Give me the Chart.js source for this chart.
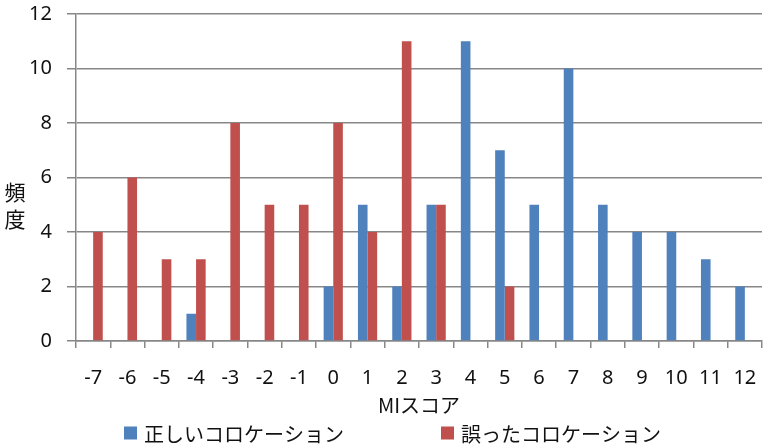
<!DOCTYPE html>
<html>
<head>
<meta charset="utf-8">
<script src="https://cdn.jsdelivr.net/npm/chart.js@4.4.1/dist/chart.umd.min.js"></script>
<style>
  html, body { margin: 0; padding: 0; background: #fff; }
</style>
</head>
<body>
<canvas id="c" width="769" height="447"></canvas>
<script>
// MI score categories and frequency counts per collocation type
const scores = ['-7','-6','-5','-4','-3','-2','-1','0','1','2','3','4','5','6','7','8','9','10','11','12'];
const correctCounts = [0,0,0,1,0,0,0,2,5,2,5,11,7,5,10,5,4,4,3,2];
const wrongCounts   = [4,6,3,3,8,5,5,8,4,11,5,0,2,0,0,0,0,0,0,0];
const seriesNames = ['正しいコロケーション', '誤ったコロケーション'];
const yTicks = [0, 2, 4, 6, 8, 10, 12];
const yTitle = '頻度';
const xTitle = 'MIスコア';

const BLUE = '#4F81BD';
const RED = '#C0504D';
const GRID = '#878787';
const LATIN = "'Noto Sans', 'Noto Sans CJK JP', sans-serif";
const CJK = "'Noto Sans CJK JP', 'Noto Sans', sans-serif";

// Vertical (stacked-character) y-axis title
const stackedYTitle = {
  id: 'stackedYTitle',
  afterDraw(chart) {
    const ctx = chart.ctx;
    ctx.save();
    ctx.font = '21px ' + CJK;
    ctx.fillStyle = '#111';
    ctx.textAlign = 'center';
    ctx.textBaseline = 'middle';
    const chars = Array.from(yTitle);
    const step = 27;
    const startY = 192;
    chars.forEach((ch, i) => ctx.fillText(ch, 15, startY + i * step));
    ctx.restore();
  }
};

// Bottom legend with square markers and wide spacing between items
const bottomLegend = {
  id: 'bottomLegend',
  afterDraw(chart) {
    const ctx = chart.ctx;
    ctx.save();
    ctx.font = '20px ' + CJK;
    ctx.textBaseline = 'middle';
    ctx.textAlign = 'left';
    const box = 13, gap = 7, spacing = 97;
    const items = chart.data.datasets.map(ds => ({ text: ds.label, color: ds.backgroundColor, w: ctx.measureText(ds.label).width }));
    const total = items.reduce((s, it) => s + box + gap + it.w, 0) + spacing * (items.length - 1);
    let x = chart.width / 2 + 8 - total / 2;
    const y = 433;
    items.forEach(it => {
      ctx.fillStyle = it.color;
      ctx.fillRect(x, y - box / 2, box, box);
      x += box + gap;
      ctx.fillStyle = '#111';
      ctx.fillText(it.text, x, y + 1);
      x += it.w + spacing;
    });
    ctx.restore();
  }
};

new Chart(document.getElementById('c'), {
  type: 'bar',
  data: {
    labels: scores,
    datasets: [
      { label: seriesNames[0], data: correctCounts, backgroundColor: BLUE, borderWidth: 0 },
      { label: seriesNames[1], data: wrongCounts, backgroundColor: RED, borderWidth: 0 }
    ]
  },
  options: {
    responsive: false,
    devicePixelRatio: 1,
    animation: false,
    layout: { padding: { left: 20, right: 7, top: 14, bottom: 29 } },
    datasets: { bar: { categoryPercentage: 0.56, barPercentage: 1.0 } },
    plugins: {
      legend: { display: false },
      tooltip: { enabled: false }
    },
    scales: {
      x: {
        offset: true,
        grid: { offset: true, drawOnChartArea: false, drawTicks: true, tickLength: 7, color: GRID, lineWidth: 1.5 },
        border: { color: GRID, width: 1.5 },
        ticks: { font: { family: LATIN, size: 20 }, color: '#111', padding: 18, maxRotation: 0, autoSkip: false },
        title: { display: true, text: xTitle, font: { family: CJK, size: 20 }, color: '#111', padding: { top: 0, bottom: 1 } },
        afterFit(scale) { scale.height = 77; scale.paddingLeft = 0; scale.paddingRight = 0; }
      },
      y: {
        min: 0,
        max: 12,
        afterBuildTicks(scale) { scale.ticks = yTicks.map(v => ({ value: v })); },
        grid: { color: GRID, lineWidth: 1.5, tickLength: 9, drawTicks: true },
        border: { color: GRID, width: 1.5 },
        ticks: { font: { family: LATIN, size: 20 }, color: '#111', padding: 15 },
        afterFit(scale) { scale.width = 56; scale.paddingTop = 0; scale.paddingBottom = 0; }
      }
    }
  },
  plugins: [stackedYTitle, bottomLegend]
});
</script>
</body>
</html>
